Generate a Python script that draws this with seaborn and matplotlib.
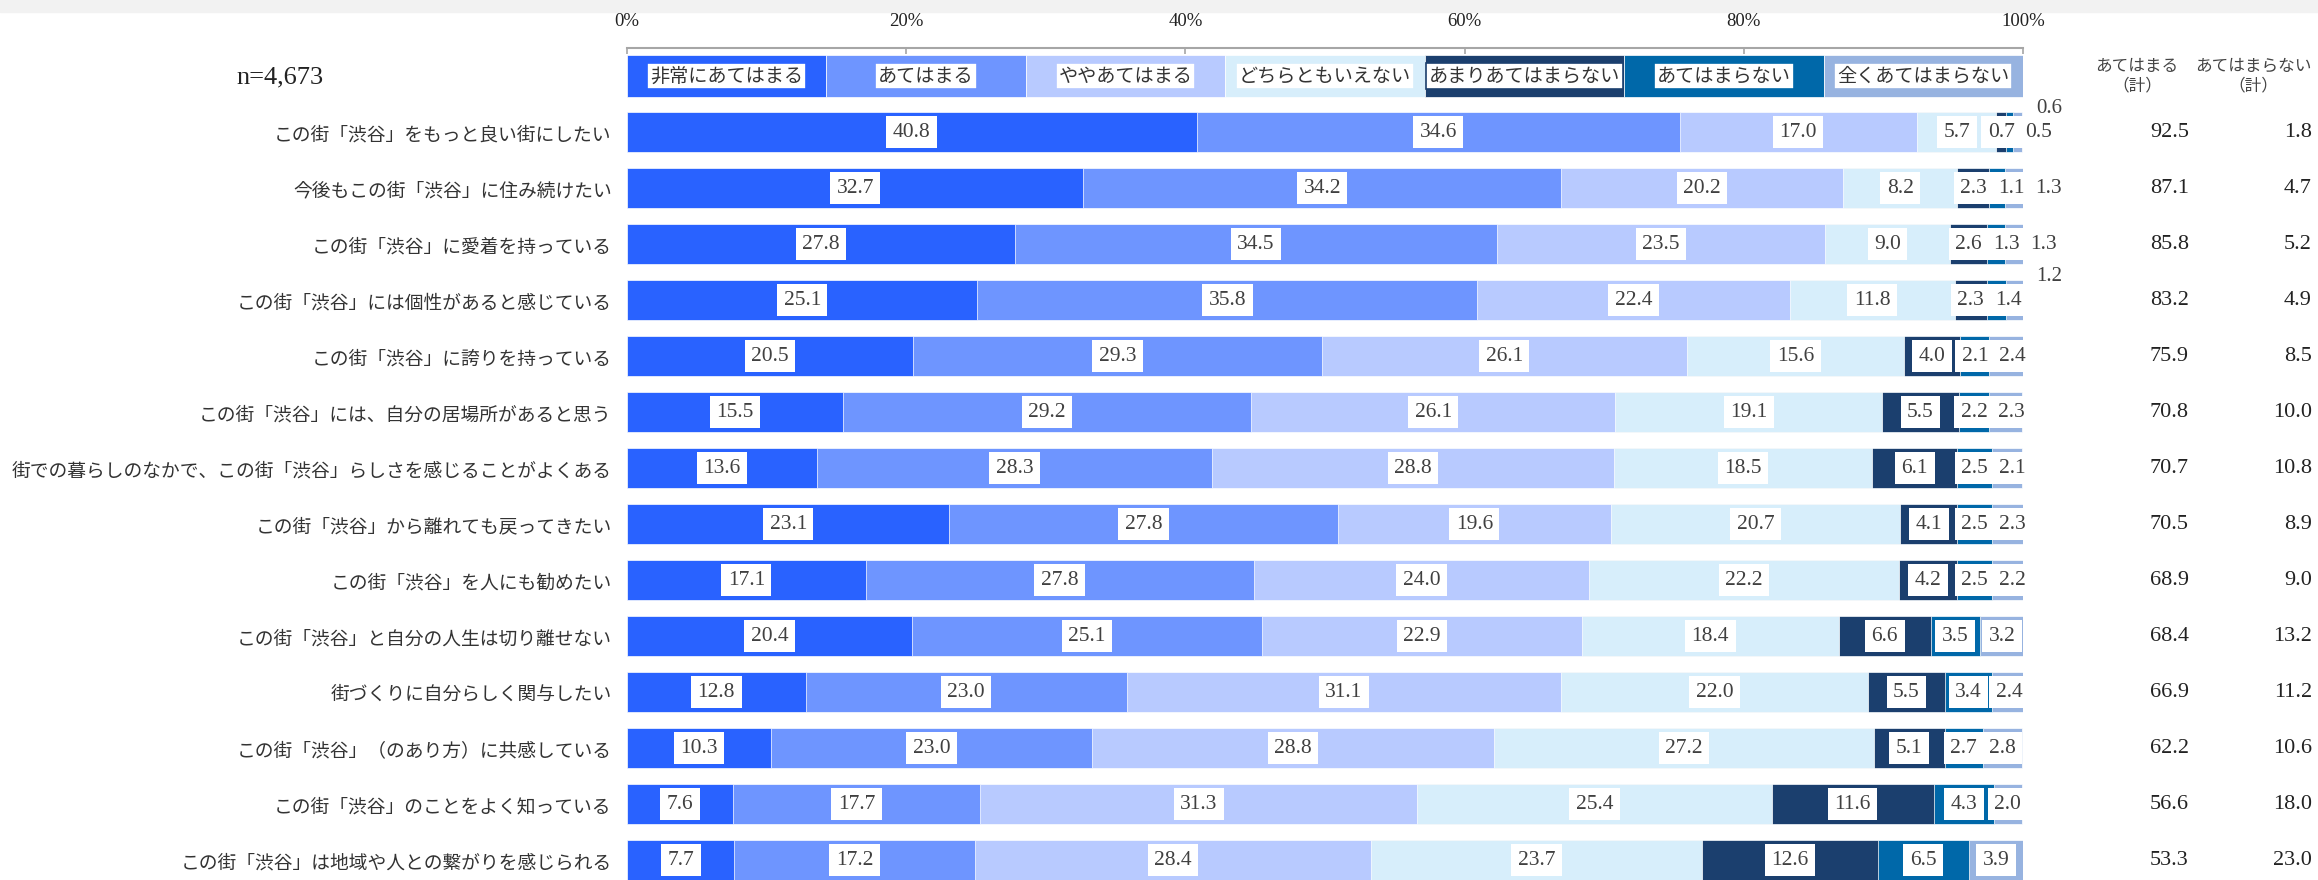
import matplotlib
matplotlib.use("Agg")
import matplotlib.pyplot as plt
import matplotlib.transforms as mtransforms
from matplotlib.patches import Rectangle
import numpy as np
import pandas as pd
import seaborn as sns

# --- data ---
items = [
    "この街「渋谷」をもっと良い街にしたい",
    "今後もこの街「渋谷」に住み続けたい",
    "この街「渋谷」に愛着を持っている",
    "この街「渋谷」には個性があると感じている",
    "この街「渋谷」に誇りを持っている",
    "この街「渋谷」には、自分の居場所があると思う",
    "街での暮らしのなかで、この街「渋谷」らしさを感じることがよくある",
    "この街「渋谷」から離れても戻ってきたい",
    "この街「渋谷」を人にも勧めたい",
    "この街「渋谷」と自分の人生は切り離せない",
    "街づくりに自分らしく関与したい",
    "この街「渋谷」（のあり方）に共感している",
    "この街「渋谷」のことをよく知っている",
    "この街「渋谷」は地域や人との繋がりを感じられる",
]
categories = ["非常にあてはまる", "あてはまる", "ややあてはまる", "どちらともいえない",
              "あまりあてはまらない", "あてはまらない", "全くあてはまらない"]
very_agree = [40.8, 32.7, 27.8, 25.1, 20.5, 15.5, 13.6, 23.1, 17.1, 20.4, 12.8, 10.3, 7.6, 7.7]
agree = [34.6, 34.2, 34.5, 35.8, 29.3, 29.2, 28.3, 27.8, 27.8, 25.1, 23.0, 23.0, 17.7, 17.2]
somewhat_agree = [17.0, 20.2, 23.5, 22.4, 26.1, 26.1, 28.8, 19.6, 24.0, 22.9, 31.1, 28.8, 31.3, 28.4]
neutral = [5.7, 8.2, 9.0, 11.8, 15.6, 19.1, 18.5, 20.7, 22.2, 18.4, 22.0, 27.2, 25.4, 23.7]
somewhat_disagree = [0.7, 2.3, 2.6, 2.3, 4.0, 5.5, 6.1, 4.1, 4.2, 6.6, 5.5, 5.1, 11.6, 12.6]
disagree = [0.5, 1.1, 1.3, 1.4, 2.1, 2.2, 2.5, 2.5, 2.5, 3.5, 3.4, 2.7, 4.3, 6.5]
strongly_disagree = [0.6, 1.3, 1.3, 1.2, 2.4, 2.3, 2.1, 2.3, 2.2, 3.2, 2.4, 2.8, 2.0, 3.9]
agree_total = [92.5, 87.1, 85.8, 83.2, 75.9, 70.8, 70.7, 70.5, 68.9, 68.4, 66.9, 62.2, 56.6, 53.3]
disagree_total = [1.8, 4.7, 5.2, 4.9, 8.5, 10.0, 10.8, 8.9, 9.0, 13.2, 11.2, 10.6, 18.0, 23.0]
sample_label = "n=4,673"

COLORS = ["#2962ff", "#6e95ff", "#b8caff", "#d7eefb", "#1b3f6e", "#0068a9", "#97b3e0"]
SERIF = "Liberation Serif"
# labels that sit outside the bar (row, segment), as in the original
OUTSIDE = [(0, 6), (3, 6)]

df = pd.DataFrame(
    np.column_stack([very_agree, agree, somewhat_agree, neutral,
                     somewhat_disagree, disagree, strongly_disagree]),
    columns=categories,
)
df["item"] = items

sns.set_style("white")
plt.rcParams["font.family"] = ["Noto Sans CJK JP", "DejaVu Sans"]

fig = plt.figure(figsize=(23.18, 8.8), dpi=100)
ax = fig.add_axes([627 / 2318, 0, 1396 / 2318, (880 - 48) / 880])
BAR_H = 0.714

# stacked bars: draw cumulative sums from the last category backwards
cum = df[categories].cumsum(axis=1)
for k in reversed(range(len(categories))):
    sns.barplot(x=cum[categories[k]], y=df["item"], order=items, orient="h",
                color=COLORS[k], saturation=1, errorbar=None, width=BAR_H,
                edgecolor="white", linewidth=0.5, ax=ax)

# value labels in white boxes, pushed right where they would collide
for r in range(len(items)):
    vals = df.loc[r, categories].to_numpy(dtype=float)
    texts = [f"{v:.1f}" for v in vals]
    centers = np.cumsum(vals) - vals / 2
    widths = [0.75 * len(t) + 0.45 for t in texts]
    pos = centers.copy()
    for i in range(1, len(vals)):
        if (r, i) in OUTSIDE:
            continue
        pos[i] = max(centers[i], pos[i - 1] + (widths[i - 1] + widths[i]) / 2)
    for i, t in enumerate(texts):
        if (r, i) in OUTSIDE:
            ax.text(101.9, r - 0.42, t, ha="center", va="center", fontsize=15,
                    family=SERIF, color="#404040", clip_on=False)
        else:
            ax.text(pos[i], r, t, ha="center", va="center", fontsize=15.5,
                    family=SERIF, color="#404040", clip_on=False,
                    bbox=dict(boxstyle="square,pad=0.3", fc="white", ec="none"))

# legend row drawn as its own bar above the data
seg = 100 / len(categories)
for k, name in enumerate(categories):
    ax.barh(-1, seg, left=k * seg, height=BAR_H + 0.02, color=COLORS[k],
            edgecolor="white", linewidth=0.5)
    ax.text(k * seg + seg / 2, -1, name, ha="center", va="center", fontsize=13.8,
            color="#333333",
            bbox=dict(boxstyle="square,pad=0.15", fc="white", ec=COLORS[k], lw=1.2))

ax.set_xlim(0, 100)
ax.set_ylim(13.357, -1.5)
ax.set_xlabel("")
ax.set_ylabel("")

ax.xaxis.tick_top()
ax.set_xticks(range(0, 101, 20))
ax.set_xticklabels([f"{t}%" for t in range(0, 101, 20)])
ax.tick_params(axis="x", direction="in", length=4, width=1.2, color="#a6a6a6",
               pad=13, labelsize=13.5, labelcolor="#222222", labelfontfamily=SERIF)
ax.set_yticks(range(len(items)))
ax.set_yticklabels(items)
ax.tick_params(axis="y", length=0, pad=11, labelsize=13.5, labelcolor="#333333")

for side in ["left", "right", "bottom"]:
    ax.spines[side].set_visible(False)
ax.spines["top"].set_color("#a6a6a6")
ax.spines["top"].set_linewidth(1.5)

# right-hand total columns
trans = mtransforms.blended_transform_factory(fig.transFigure, ax.transData)
fig.text(0.9219, 1 - 76 / 880, "あてはまる\n（計）", ha="center", va="center",
         fontsize=12, color="#444444", linespacing=1.15)
fig.text(0.972, 1 - 76 / 880, "あてはまらない\n（計）", ha="center", va="center",
         fontsize=12, color="#444444", linespacing=1.15)
for r in range(len(items)):
    ax.text(0.9443, r, f"{agree_total[r]:.1f}", transform=trans, ha="right",
            va="center", fontsize=16, family=SERIF, color="#222222")
    ax.text(0.9974, r, f"{disagree_total[r]:.1f}", transform=trans, ha="right",
            va="center", fontsize=16, family=SERIF, color="#222222")

fig.text(280 / 2318, 1 - 77 / 880, sample_label, ha="center", va="center",
         fontsize=19, family=SERIF, color="#222222")

# thin grey band along the top edge
fig.add_artist(Rectangle((0, 1 - 12 / 880), 1, 12 / 880, transform=fig.transFigure,
                         color="#f2f2f2", zorder=0))

fig.savefig("out.png", dpi=100, facecolor="white")
